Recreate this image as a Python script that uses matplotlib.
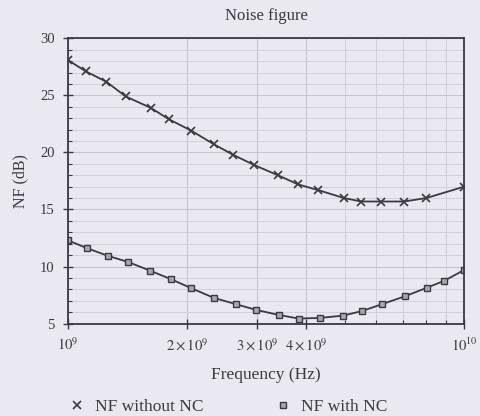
import matplotlib
matplotlib.use("Agg")
import matplotlib.pyplot as plt
from matplotlib.ticker import FixedLocator, NullFormatter, MultipleLocator

# Data (frequency in GHz, NF in dB)
freq_without_nc = [1.0, 1.11, 1.25, 1.40, 1.62, 1.80, 2.05, 2.34, 2.61, 2.95,
                   3.39, 3.81, 4.28, 4.98, 5.50, 6.17, 7.05, 8.02, 10.0]
nf_without_nc = [28.1, 27.1, 26.2, 24.9, 23.9, 22.9, 21.9, 20.7, 19.8, 18.9,
                 18.0, 17.2, 16.7, 16.0, 15.7, 15.7, 15.7, 16.0, 17.0]
freq_with_nc = [1.0, 1.12, 1.26, 1.42, 1.61, 1.82, 2.05, 2.34, 2.66, 2.99,
                3.42, 3.82, 4.32, 4.94, 5.52, 6.20, 7.09, 8.06, 8.90, 10.0]
nf_with_nc = [12.3, 11.6, 10.95, 10.4, 9.65, 8.9, 8.1, 7.25, 6.7, 6.2,
              5.75, 5.45, 5.5, 5.7, 6.1, 6.7, 7.4, 8.15, 8.75, 9.7]

xtick_vals = [1e9, 2e9, 3e9, 4e9, 1e10]
xtick_labels = [r"$10^9$", r"$2\times10^9$", r"$3\times10^9$", r"$4\times10^9$", r"$10^{10}$"]
ytick_vals = [5, 10, 15, 20, 25, 30]

plt.rcParams['font.family'] = ['Liberation Serif', 'DejaVu Serif']
plt.rcParams['mathtext.fontset'] = 'stix'

bg = '#eae8f0'
ink = '#3a3a40'
fig = plt.figure(figsize=(4.81, 4.16), dpi=100, facecolor=bg)
ax = fig.add_axes([0.141, 0.222, 0.824, 0.686], facecolor=bg)

fw = [f * 1e9 for f in freq_without_nc]
fn = [f * 1e9 for f in freq_with_nc]
ax.plot(fw, nf_without_nc, color=ink, lw=1.3, marker='x', ms=6, mew=1.2,
        mec=ink, label='NF without NC')
ax.plot(fn, nf_with_nc, color=ink, lw=1.3, marker='s', ms=3.8, mew=1.0,
        mec=ink, mfc='#a8a6b0', label='NF with NC')

ax.set_xscale('log')
ax.set_xlim(1e9, 1e10)
ax.set_ylim(5, 30)
ax.xaxis.set_major_locator(FixedLocator(xtick_vals))
ax.set_xticklabels(xtick_labels)
ax.xaxis.set_minor_locator(FixedLocator([5e9, 6e9, 7e9, 8e9, 9e9]))
ax.xaxis.set_minor_formatter(NullFormatter())
ax.set_yticks(ytick_vals)
ax.yaxis.set_minor_locator(MultipleLocator(1))

ax.grid(True, which='major', color='#c6c4ce', lw=0.8)
ax.grid(True, which='minor', color='#d2d0da', lw=0.7)
ax.set_axisbelow(True)

ax.tick_params(which='major', direction='inout', length=7, width=1.0,
               colors=ink, labelsize=10.5, pad=6)
ax.tick_params(which='minor', direction='in', length=3, width=0.8, colors=ink)
for s in ax.spines.values():
    s.set_color(ink)
    s.set_linewidth(1.3)

ax.set_title('Noise figure', fontsize=12, color=ink, pad=13)
ax.set_xlabel('Frequency (Hz)', fontsize=12.5, color=ink, labelpad=9)
ax.set_ylabel('NF (dB)', fontsize=11.5, color=ink, labelpad=8)

leg = fig.legend(loc='lower left', bbox_to_anchor=(0.115, -0.035), ncol=2,
                 frameon=False, fontsize=12.5, handlelength=0.7,
                 columnspacing=4.2, handletextpad=0.7)
for t in leg.get_texts():
    t.set_color(ink)
for h in leg.legend_handles:
    h.set_linestyle('None')

fig.savefig('out.png', dpi=100, facecolor=bg)
